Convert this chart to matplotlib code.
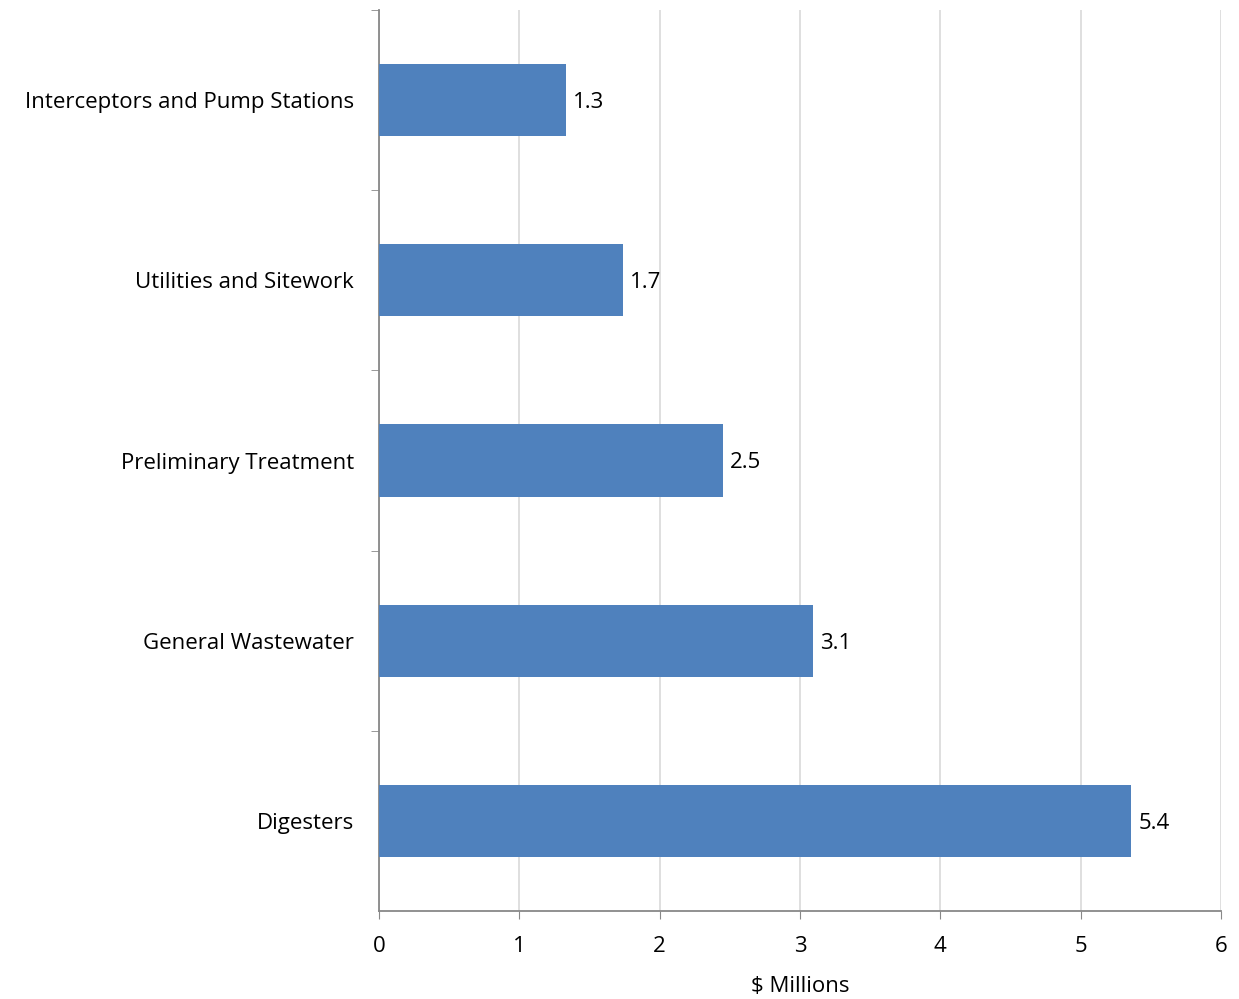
import matplotlib.pyplot as plt

categories = ['Interceptors and Pump Stations', 'Utilities and Sitework',
              'Preliminary Treatment', 'General Wastewater', 'Digesters']
values = [1.33, 1.74, 2.45, 3.09, 5.36]
value_labels = ['1.3', '1.7', '2.5', '3.1', '5.4']
xticks = [0, 1, 2, 3, 4, 5, 6]

plt.rcParams['font.family'] = ['Open Sans', 'DejaVu Sans']
fs = 16

fig = plt.figure(figsize=(12.39, 9.99), dpi=100)
ax = fig.add_axes([379 / 1239, 1 - 911 / 999, (1221 - 379) / 1239, (911 - 10) / 999])

pos = list(range(len(categories)))
ax.barh(pos, values, height=0.4, color='#4F81BD', zorder=3)
for p, v, lab in zip(pos, values, value_labels):
    ax.text(v + 0.05, p, lab, va='center_baseline', ha='left', fontsize=fs, color='black')

ax.set_xlim(0, 6)
ax.set_ylim(len(categories) - 0.5, -0.5)
ax.set_xticks(xticks)
ax.set_xticklabels([str(t) for t in xticks], fontsize=fs)
ax.set_yticks(pos)
ax.set_yticklabels(categories, fontsize=fs)
ax.tick_params(axis='y', length=0, pad=18)
ax.set_yticks([p + 0.5 for p in pos[:-1]] + [-0.5], minor=True)
ax.tick_params(axis='y', which='minor', length=6, color='#888888', direction='out')
ax.tick_params(axis='x', length=6, color='#888888', direction='out', pad=12)
ax.set_xlabel('$ Millions', fontsize=fs, labelpad=14)

ax.grid(axis='x', color='#D9D9D9', linewidth=1.2, zorder=0)
for s in ['top', 'right']:
    ax.spines[s].set_visible(False)
for s in ['left', 'bottom']:
    ax.spines[s].set_color('#888888')
    ax.spines[s].set_linewidth(1.3)

fig.savefig('out.png', dpi=100)
